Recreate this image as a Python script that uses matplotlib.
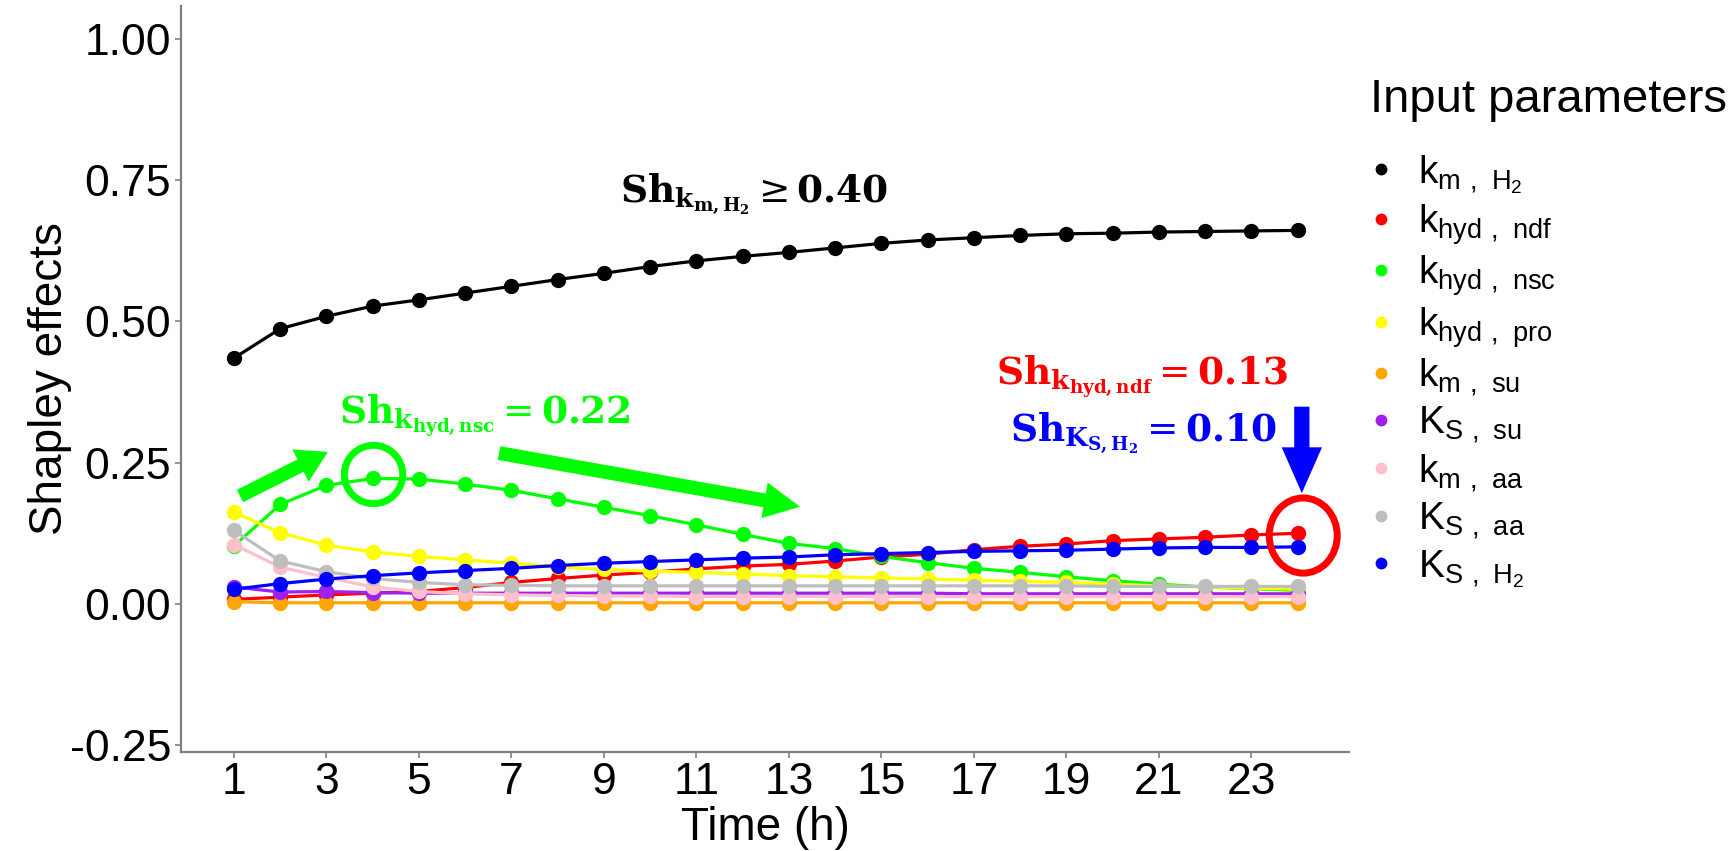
import matplotlib
matplotlib.use("Agg")
import matplotlib.pyplot as plt
from matplotlib.lines import Line2D
from matplotlib.patches import FancyArrowPatch, Ellipse, ArrowStyle

plt.rcParams['font.family'] = ['Liberation Sans', 'DejaVu Sans']

# data
hours = list(range(1, 25))
km_H2 = [0.435, 0.487, 0.509, 0.527, 0.538, 0.550, 0.562, 0.574, 0.585, 0.597, 0.607, 0.615,
         0.622, 0.630, 0.638, 0.644, 0.648, 0.652, 0.655, 0.656, 0.658, 0.659, 0.660, 0.661]
khyd_ndf = [0.008, 0.012, 0.016, 0.019, 0.022, 0.029, 0.038, 0.045, 0.051, 0.056, 0.062, 0.067,
            0.070, 0.076, 0.083, 0.088, 0.096, 0.102, 0.106, 0.112, 0.115, 0.118, 0.122, 0.125]
khyd_nsc = [0.103, 0.176, 0.210, 0.222, 0.221, 0.212, 0.201, 0.186, 0.171, 0.156, 0.140, 0.123,
            0.107, 0.098, 0.084, 0.073, 0.063, 0.056, 0.048, 0.041, 0.035, 0.030, 0.027, 0.024]
khyd_pro = [0.162, 0.126, 0.104, 0.092, 0.084, 0.078, 0.072, 0.066, 0.061, 0.058, 0.056, 0.053,
            0.050, 0.048, 0.046, 0.044, 0.042, 0.040, 0.038, 0.035, 0.032, 0.030, 0.028, 0.026]
km_su = [0.004, 0.002, 0.002, 0.002, 0.002, 0.002, 0.002, 0.002, 0.002, 0.002, 0.002, 0.002,
         0.002, 0.002, 0.002, 0.002, 0.002, 0.002, 0.002, 0.002, 0.002, 0.002, 0.002, 0.002]
KS_su = [0.030, 0.021, 0.022, 0.020, 0.019, 0.019, 0.019, 0.019, 0.019, 0.019, 0.019, 0.019,
         0.019, 0.019, 0.019, 0.019, 0.018, 0.018, 0.018, 0.018, 0.018, 0.018, 0.018, 0.018]
km_aa = [0.105, 0.065, 0.047, 0.030, 0.022, 0.018, 0.016, 0.015, 0.014, 0.014, 0.013, 0.013,
         0.013, 0.013, 0.013, 0.013, 0.013, 0.013, 0.013, 0.013, 0.013, 0.013, 0.013, 0.013]
KS_aa = [0.130, 0.076, 0.057, 0.045, 0.038, 0.034, 0.033, 0.032, 0.032, 0.032, 0.032, 0.032,
         0.032, 0.032, 0.032, 0.032, 0.032, 0.032, 0.032, 0.031, 0.031, 0.031, 0.031, 0.031]
KS_H2 = [0.026, 0.036, 0.044, 0.050, 0.055, 0.059, 0.063, 0.068, 0.072, 0.075, 0.078, 0.081,
         0.083, 0.087, 0.089, 0.091, 0.093, 0.094, 0.095, 0.097, 0.099, 0.100, 0.100, 0.101]

series = [km_H2, khyd_ndf, khyd_nsc, khyd_pro, km_su, KS_su, km_aa, KS_aa, KS_H2]
labels = [r'$\mathregular{k_{m\ ,\ H_2}}$', r'$\mathregular{k_{hyd\ ,\ ndf}}$',
          r'$\mathregular{k_{hyd\ ,\ nsc}}$', r'$\mathregular{k_{hyd\ ,\ pro}}$',
          r'$\mathregular{k_{m\ ,\ su}}$', r'$\mathregular{K_{S\ ,\ su}}$',
          r'$\mathregular{k_{m\ ,\ aa}}$', r'$\mathregular{K_{S\ ,\ aa}}$',
          r'$\mathregular{K_{S\ ,\ H_2}}$']
colors = ['black', '#FF0000', '#00FF00', '#FFFF00', '#FFA500', '#A020F0', '#FFC0CB', '#BEBEBE', '#0000FF']
yticks = [-0.25, 0.0, 0.25, 0.50, 0.75, 1.00]
ytick_labels = ['-0.25', '0.00', '0.25', '0.50', '0.75', '1.00']
xticks = list(range(1, 24, 2))

W, H = 1735, 851
fig = plt.figure(figsize=(W / 100, H / 100), dpi=100)
ax = fig.add_axes([181 / W, 1 - 752 / H, (1349 - 181) / W, (752 - 6) / H])

for vals, col in zip(series, colors):
    ax.plot(hours, vals, color=col, lw=2.3, marker='o', ms=10, solid_capstyle='round')

ax.set_xlim(-0.146, 25.11)
ax.set_ylim(-0.262, 1.058)
ax.set_xticks(xticks)
ax.set_yticks(yticks)
ax.set_yticklabels(ytick_labels)
ax.tick_params(labelsize=32, colors='#808080', labelcolor='black', length=4, width=1.2, pad=3)
for s in ['top', 'right']:
    ax.spines[s].set_visible(False)
for s in ['left', 'bottom']:
    ax.spines[s].set_color('#808080')
    ax.spines[s].set_linewidth(1.6)

ax.set_xlabel('Time (h)', fontsize=33)
ax.set_ylabel('Shapley effects', fontsize=33, va='center')
ax.xaxis.set_label_coords(0.5, -0.072)
ax.yaxis.set_label_coords(-0.112, 0.5)

# annotations
ax.text(9.35, 0.71, r'$\mathbf{Sh}_{\mathbf{k}_{\mathbf{m,H}_\mathbf{2}}} \geq \mathbf{0.40}$',
        fontsize=27, math_fontfamily='dejavuserif', color='black')
ax.text(3.27, 0.32, r'$\mathbf{Sh}_{\mathbf{k}_{\mathbf{hyd,nsc}}} = \mathbf{0.22}$',
        fontsize=27, math_fontfamily='dejavuserif', color='#00FF00')
ax.text(17.47, 0.388, r'$\mathbf{Sh}_{\mathbf{k}_{\mathbf{hyd,ndf}}} = \mathbf{0.13}$',
        fontsize=27, math_fontfamily='dejavuserif', color='#FF0000')
ax.text(17.77, 0.287, r'$\mathbf{Sh}_{\mathbf{K}_{\mathbf{S,H}_\mathbf{2}}} = \mathbf{0.10}$',
        fontsize=27, math_fontfamily='dejavuserif', color='#0000FF')

# highlight circles
ax.plot(hours[3], khyd_nsc[3] + 0.008, marker='o', ms=42, mfc='none', mec='#00FF00', mew=5, zorder=5)
ax.add_patch(Ellipse((hours[-1] + 0.12, khyd_ndf[-1] - 0.004), 1.47, 0.133,
                     fill=False, ec='#FF0000', lw=5, zorder=5))

# arrows
def arrow(p0, p1, color, tw, hw, hl):
    st = ArrowStyle('simple', head_length=hl, head_width=hw, tail_width=tw)
    ax.add_patch(FancyArrowPatch(p0, p1, arrowstyle=st, mutation_scale=10, color=color,
                                 shrinkA=0, shrinkB=0, lw=0, zorder=6))

arrow((1.13, 0.191), (3.03, 0.269), '#00FF00', 1.0, 2.6, 2.2)
arrow((6.73, 0.267), (13.24, 0.172), '#00FF00', 1.0, 2.6, 2.6)
arrow((24.09, 0.349), (24.09, 0.196), '#0000FF', 1.1, 2.9, 3.3)

# legend
fig.text(1370 / W, 1 - 100 / H, 'Input parameters', fontsize=34, va='center', ha='left')
handles = [Line2D([], [], ls='none', marker='o', ms=7.5, color=c) for c in colors]
fig.legend(handles, labels, loc='upper left', bbox_to_anchor=(1362 / W, 1 - 153 / H),
           frameon=False, fontsize=28, handlelength=1.0, handletextpad=0.45,
           labelspacing=0.17, borderpad=0, borderaxespad=0)

fig.savefig('out.png', dpi=100)
